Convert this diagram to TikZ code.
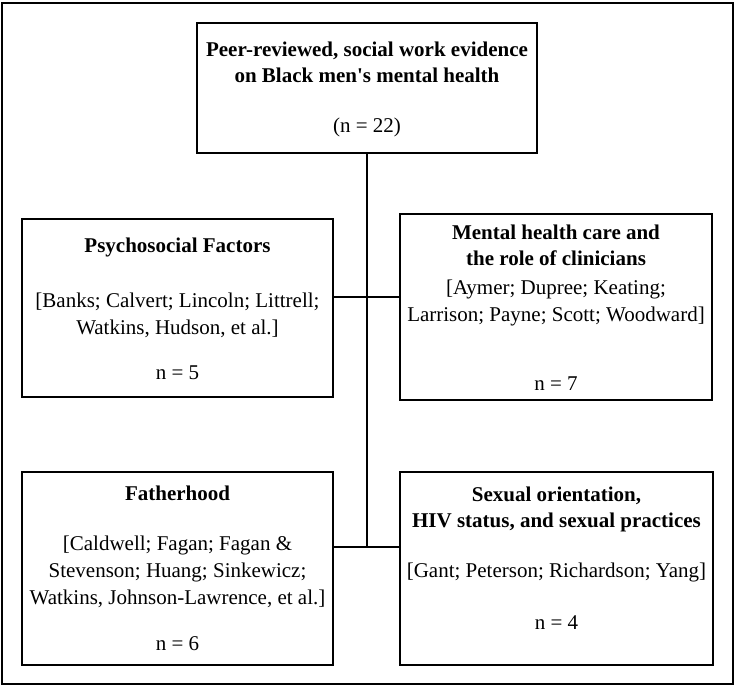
\documentclass[tikz,border=0pt]{standalone}
\usepackage{fontspec}
\setmainfont{Liberation Serif}[Ligatures=TeXOff]
\begin{document}
\begin{tikzpicture}[x=1pt,y=-1pt,
  frame/.style={draw=black,line width=1.8pt},
  box/.style={draw=black,line width=2pt,inner sep=0pt,outer sep=0pt},
  link/.style={draw=black,line width=2pt},
  ttl/.style={font=\fontsize{21}{25.5}\selectfont\bfseries,align=center,anchor=base,inner sep=0pt},
  txt/.style={font=\fontsize{21}{27}\selectfont,align=center,anchor=base,inner sep=0pt}]
\useasboundingbox (0,0) rectangle (735,686);
\draw[frame] (2,3) rectangle (733,684);
% boxes
\node[box,minimum width=340pt,minimum height=130pt] (top) at (367,88) {};
\node[box,minimum width=311pt,minimum height=178pt] (psy) at (177.5,308) {};
\node[box,minimum width=312pt,minimum height=186pt] (mh) at (556,307) {};
\node[box,minimum width=311pt,minimum height=193pt] (fat) at (177.5,568.5) {};
\node[box,minimum width=313pt,minimum height=193pt] (sex) at (556.5,568.5) {};
% connectors
\coordinate (j1) at (366,297);
\coordinate (j2) at (366,547);
\draw[link] (top.south) -- (top.south |- j2);
\draw[link] (psy.east |- j1) -- (mh.west |- j1);
\draw[link] (fat.east |- j2) -- (sex.west |- j2);
% texts (anchor = baseline of last line)
\node[ttl] (topt) at (367,82) {Peer-reviewed, social work evidence\\on Black men's mental health};
\node[txt] (topn) at (367,132) {(n = 22)};
\node[ttl] (psyt) at (177.5,252) {Psychosocial Factors};
\node[txt] (psyr) at (177.5,334) {[Banks; Calvert; Lincoln; Littrell;\\Watkins, Hudson, et al.]};
\node[txt] (psyn) at (177.5,379) {n = 5};
\node[ttl] (mht) at (556,265) {Mental health care and\\the role of clinicians};
\node[txt] (mhr) at (556,321) {[Aymer; Dupree; Keating;\\Larrison; Payne; Scott; Woodward]};
\node[txt] (mhn) at (556,390) {n = 7};
\node[ttl] (fatt) at (177.5,500) {Fatherhood};
\node[txt] (fatr) at (177.5,604) {[Caldwell; Fagan; Fagan \&\\Stevenson; Huang; Sinkewicz;\\Watkins, Johnson-Lawrence, et al.]};
\node[txt] (fatn) at (177.5,650) {n = 6};
\node[ttl] (sext) at (556.5,527) {Sexual orientation,\\HIV status, and sexual practices};
\node[txt] (sexr) at (556.5,577) {[Gant; Peterson; Richardson; Yang]};
\node[txt] (sexn) at (556.5,629) {n = 4};
\end{tikzpicture}
\end{document}
